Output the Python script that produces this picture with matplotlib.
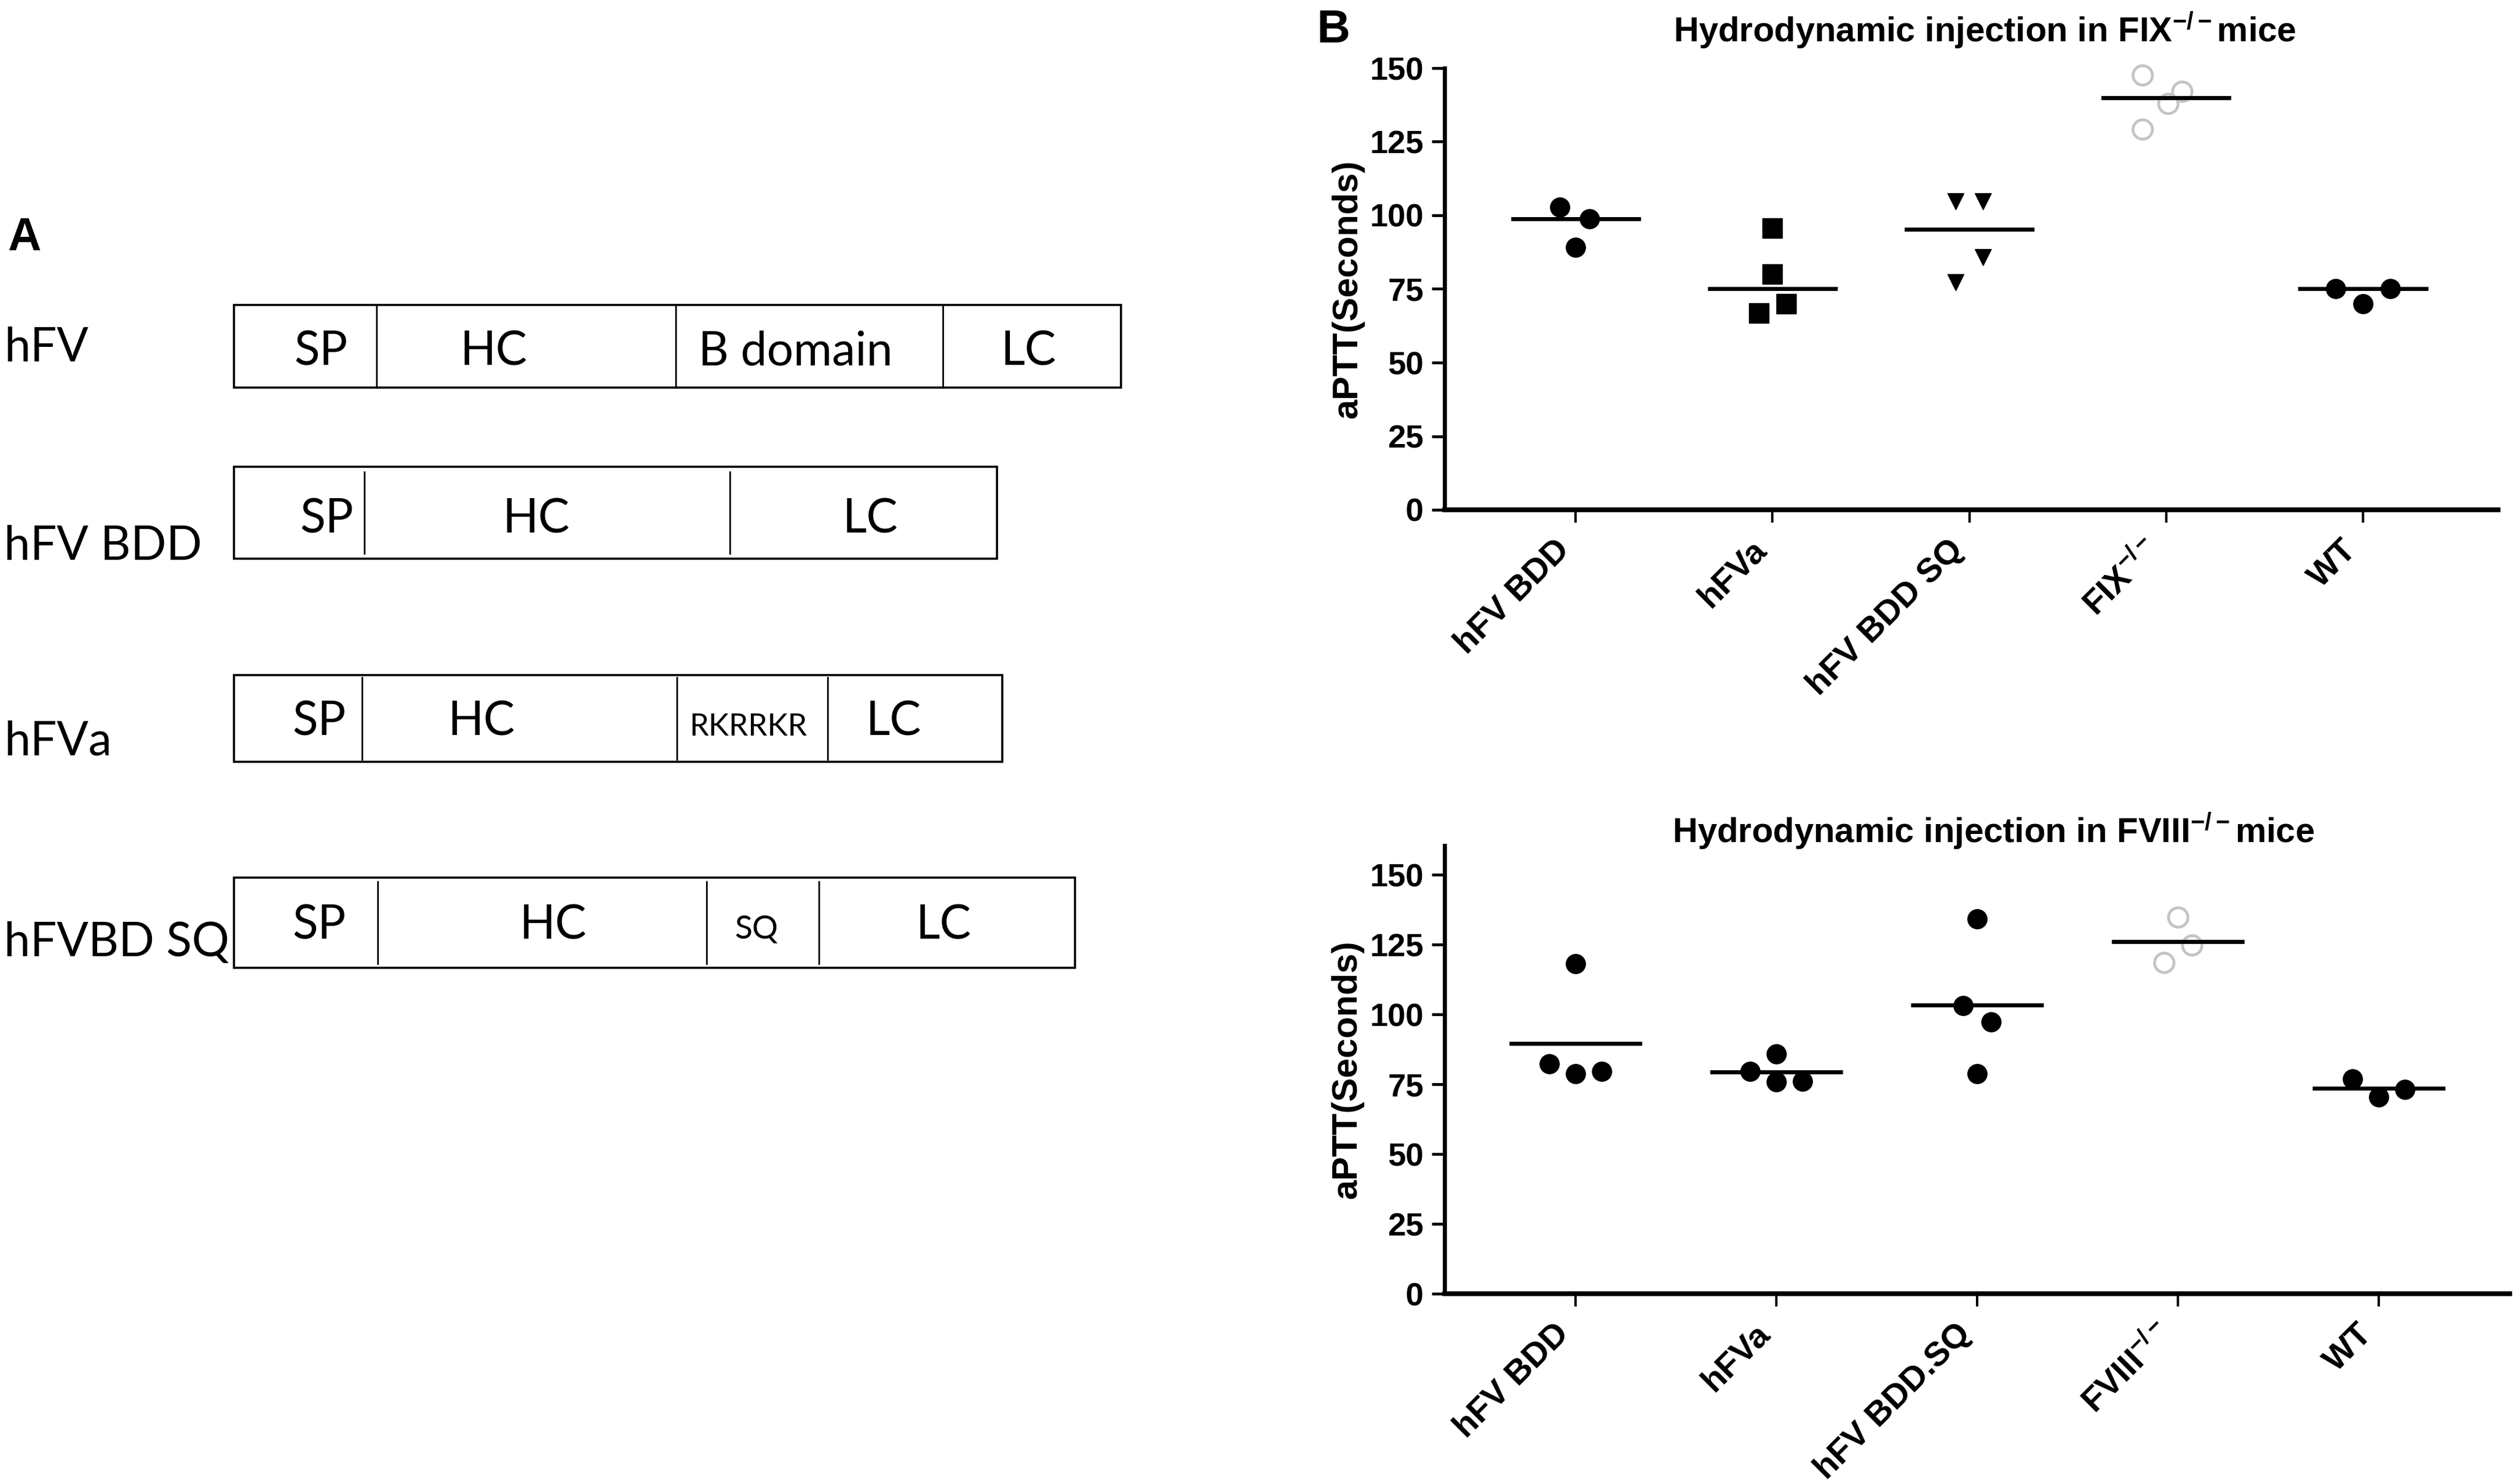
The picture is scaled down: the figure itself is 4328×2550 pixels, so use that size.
import matplotlib
matplotlib.use("Agg")
import matplotlib.pyplot as plt
import numpy as np
from matplotlib.patches import Rectangle

plt.rcParams['font.family'] = ['Liberation Sans', 'DejaVu Sans']
plt.rcParams['mathtext.fontset'] = 'custom'
plt.rcParams['mathtext.rm'] = 'Liberation Sans:bold'
plt.rcParams['mathtext.bf'] = 'Liberation Sans:bold'
plt.rcParams['mathtext.it'] = 'Liberation Sans:bold'
plt.rcParams['mathtext.default'] = 'rm'

# ---- panel A: domain layout of the constructs (pixel units of the figure)
constructs = ['hFV', 'hFV BDD', 'hFVa', 'hFVBD SQ']
domain_names = [['SP', 'HC', 'B domain', 'LC'],
                ['SP', 'HC', 'LC'],
                ['SP', 'HC', 'RKRRKR', 'LC'],
                ['SP', 'HC', 'SQ', 'LC']]
domain_edges = [[402, 647, 1161, 1620, 1926],
                [402, 626, 1254, 1713],
                [402, 622, 1163, 1422, 1722],
                [402, 649, 1214, 1407, 1847]]
domain_label_x = [[551, 848, 1367, 1767],
                  [561, 921, 1495],
                  [548, 827, 1285, 1535],
                  [548, 950, 1300, 1621]]

# ---- panel B: aPTT (seconds)
fix_groups = ['hFV BDD', 'hFVa', 'hFV BDD SQ', 'FIX$^{-/-}$', 'WT']
fix_values = [[102.8, 98.9, 89.2],
              [95.7, 80.1, 69.9, 66.8],
              [104.8, 104.8, 85.8, 77.3],
              [147.6, 142.1, 137.9, 129.2],
              [75.0, 69.9, 75.0]]
fix_jitter = [[-0.08, 0.07, 0.0],
              [0.0, 0.0, 0.07, -0.07],
              [-0.07, 0.07, 0.07, -0.07],
              [-0.12, 0.08, 0.01, -0.12],
              [-0.14, 0.0, 0.14]]

f8_groups = ['hFV BDD', 'hFVa', 'hFV BDD.SQ', 'FVIII$^{-/-}$', 'WT']
f8_values = [[82.3, 78.8, 79.6, 118.1],
             [79.6, 85.9, 75.8, 76.0],
             [134.2, 103.2, 97.3, 78.8],
             [134.8, 124.9, 118.7],
             [77.0, 70.4, 73.2]]
f8_jitter = [[-0.13, 0.0, 0.13, 0.0],
             [-0.13, 0.0, 0.0, 0.13],
             [0.0, -0.07, 0.07, 0.0],
             [0.0, 0.07, -0.07],
             [-0.13, 0.0, 0.13]]

W, H = 4328, 2550
fig = plt.figure(figsize=(W / 100, H / 100), dpi=100)

# panel A drawn in a full-figure axes with pixel coordinates
axa = fig.add_axes([0, 0, 1, 1])
axa.set_xlim(0, W)
axa.set_ylim(H, 0)
axa.axis('off')

row_box = [(524, 666), (802, 960), (1160, 1309), (1508, 1663)]
row_base = [628, 915, 1264, 1613]
label_base = [621, 962, 1298, 1643]
divider_gap = [0, 9, 4, 7]
small = {'RKRRKR': 38, 'SQ': 40}

for i, name in enumerate(constructs):
    top, bot = row_box[i]
    edges = domain_edges[i]
    axa.add_patch(Rectangle((edges[0], top), edges[-1] - edges[0], bot - top,
                            fill=False, lw=2.6, ec='black'))
    for e in edges[1:-1]:
        axa.plot([e, e], [top + divider_gap[i], bot - divider_gap[i]], color='black', lw=2.0)
    for dom, cx in zip(domain_names[i], domain_label_x[i]):
        axa.text(cx, row_base[i], dom, ha='center', va='baseline',
                 fontsize=small.get(dom, 58), family='Lato')
    axa.text(7, label_base[i], name, ha='left', va='baseline', fontsize=58, family='Lato')

fig.text(13 / W, 1 - 430 / H, 'A', fontsize=57, fontweight='bold', va='baseline', ha='left')
fig.text(2263 / W, 1 - 73 / H, 'B', fontsize=57, fontweight='bold', va='baseline', ha='left')

markers = ['o', 's', 'v', 'o', 'o']


def scatter_panel(ax, groups, values, jitter, centre, ymax, xlim, title, title_x, title_y, shapes):
    for k, (vals, jit) in enumerate(zip(values, jitter)):
        x = k + np.array(jit)
        if k == 3:
            # knockout controls: open grey circles
            ax.plot(x, vals, 'o', ms=24, mfc='white', mec='#c4c4c4', mew=3.5,
                    linestyle='none', clip_on=False, zorder=3)
        else:
            mk = shapes[k]
            ms = 20 if mk == 'v' else 24
            ax.plot(x, vals, mk, ms=ms, color='black', linestyle='none',
                    clip_on=False, zorder=3)
        m = centre(vals)
        ax.plot([k - 0.33, k + 0.33], [m, m], color='black', lw=5, zorder=4,
                solid_capstyle='butt')
    ax.set_xlim(*xlim)
    ax.set_ylim(0, ymax)
    ax.set_yticks(np.arange(0, 151, 25))
    ax.set_xticks(range(len(groups)))
    ax.set_xticklabels(groups, rotation=45, ha='right', fontsize=42, fontweight='bold')
    for lab in ax.get_yticklabels():
        lab.set_fontweight('bold')
    ax.tick_params(axis='y', labelsize=40, length=16, width=3.5, pad=10)
    ax.tick_params(axis='x', length=16, width=3, pad=14)
    ax.spines['top'].set_visible(False)
    ax.spines['right'].set_visible(False)
    ax.spines['left'].set_linewidth(5)
    ax.spines['bottom'].set_linewidth(6)
    ax.set_ylabel('aPTT(Seconds)', fontsize=44, fontweight='bold')
    ax.yaxis.set_label_coords(-0.076, 0.5)
    fig.text(title_x / W, 1 - title_y / H, title, ha='center', va='baseline',
             fontsize=43, fontweight='bold')


ax_top = fig.add_axes([2482 / W, 1 - 876 / H, 1810 / W, (876 - 117) / H])
scatter_panel(ax_top, fix_groups, fix_values, fix_jitter, np.median, 150,
              (-0.666, 4.686), 'Hydrodynamic injection in FIX$^{-/-}$mice', 3410, 72,
              markers)

ax_bot = fig.add_axes([2482 / W, 1 - 2223 / H, 1830 / W, (2223 - 1453) / H])
scatter_panel(ax_bot, f8_groups, f8_values, f8_jitter, np.mean, 160.5,
              (-0.652, 4.652), 'Hydrodynamic injection in FVIII$^{-/-}$mice', 3425, 1448,
              ['o'] * 5)

fig.savefig('out.png', dpi=100, facecolor='white')
